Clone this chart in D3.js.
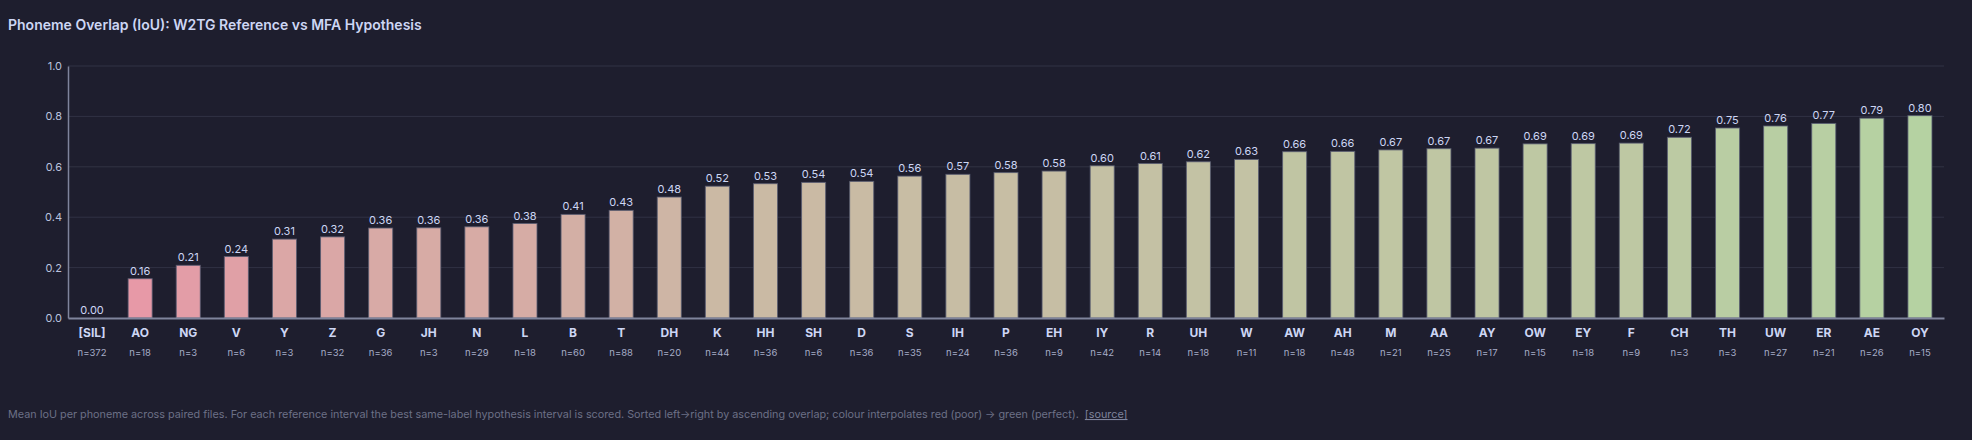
<!DOCTYPE html>
<html>
<head>
<meta charset="utf-8">
<script src="https://cdn.jsdelivr.net/npm/d3@7"></script>
<style>
  html, body { margin: 0; padding: 0; background: #1e1e2e; }
  body { width: 1972px; height: 440px; overflow: hidden; font-family: Inter, "Noto Sans", sans-serif; }
  svg text { font-family: Inter, "Noto Sans", sans-serif; }
</style>
</head>
<body>
<svg id="chart" width="1972" height="440"></svg>
<script>
// phonemes sorted by ascending IoU
var phonemes = ["[SIL]", "AO", "NG", "V", "Y", "Z", "G", "JH", "N", "L", "B", "T", "DH", "K", "HH", "SH", "D", "S", "IH", "P", "EH", "IY", "R", "UH", "W", "AW", "AH", "M", "AA", "AY", "OW", "EY", "F", "CH", "TH", "UW", "ER", "AE", "OY"];
var iou = [0.00, 0.156, 0.209, 0.244, 0.313, 0.322, 0.357, 0.358, 0.362, 0.375, 0.411, 0.427, 0.480, 0.523, 0.533, 0.538, 0.542, 0.563, 0.570, 0.577, 0.583, 0.604, 0.613, 0.620, 0.629, 0.660, 0.661, 0.667, 0.672, 0.674, 0.691, 0.692, 0.694, 0.717, 0.754, 0.762, 0.772, 0.793, 0.803];
var counts = [372, 18, 3, 6, 3, 32, 36, 3, 29, 18, 60, 88, 20, 44, 36, 6, 36, 35, 24, 36, 9, 42, 14, 18, 11, 18, 48, 21, 25, 17, 15, 18, 9, 3, 3, 27, 21, 26, 15];
var yTicks = [0, 0.2, 0.4, 0.6, 0.8, 1.0];

var data = phonemes.map(function (p, i) { return { ph: p, v: iou[i], n: counts[i] }; });

var svg = d3.select("#chart");
var margin = { top: 66, right: 28, bottom: 122, left: 68 };
var width = 1972, height = 440;

var x = d3.scaleBand()
    .domain(phonemes)
    .range([margin.left, width - margin.right])
    .paddingInner(0.5)
    .paddingOuter(0.25);

var y = d3.scaleLinear()
    .domain([0, 1])
    .range([height - margin.bottom, margin.top]);

var colour = d3.interpolateRgb("#f38ba8", "#a6e3a1");

// title
svg.append("text")
    .attr("x", 8).attr("y", 30)
    .text("Phoneme Overlap (IoU): W2TG Reference vs MFA Hypothesis")
    .style("font-size", "14px").style("font-weight", "600")
    .style("fill", "#cdd6f4");

// grid
svg.append("g")
    .selectAll("line")
    .data(yTicks.filter(function (t) { return t > 0; }))
    .enter().append("line")
    .attr("x1", margin.left).attr("x2", width - margin.right)
    .attr("y1", function (d) { return y(d); }).attr("y2", function (d) { return y(d); })
    .style("stroke", "#313244").style("stroke-width", 1);

// y axis
var yAxis = svg.append("g")
    .attr("transform", "translate(" + margin.left + ",0)")
    .call(d3.axisLeft(y).tickValues(yTicks).tickFormat(d3.format(".1f")).tickSize(0).tickPadding(6));
yAxis.select(".domain").style("stroke", "#7f849c").style("stroke-width", 1.5);
yAxis.selectAll("text").style("font-size", "11px").style("fill", "#bac2de");

// bars
svg.append("g")
    .selectAll("rect")
    .data(data)
    .enter().append("rect")
    .attr("x", function (d) { return x(d.ph); })
    .attr("y", function (d) { return y(d.v); })
    .attr("width", x.bandwidth())
    .attr("height", function (d) { return y(0) - y(d.v); })
    .style("fill", function (d) { return colour(d.v); })
    .style("stroke", "rgba(88,91,112,0.8)")
    .style("stroke-width", 1);

// value labels
svg.append("g")
    .selectAll("text")
    .data(data)
    .enter().append("text")
    .attr("x", function (d) { return x(d.ph) + x.bandwidth() / 2; })
    .attr("y", function (d) { return y(d.v) - 4; })
    .attr("text-anchor", "middle")
    .text(function (d) { return d.v.toFixed(2); })
    .style("font-size", "11px").style("fill", "#cdd6f4");

// x axis
var xAxis = svg.append("g")
    .attr("transform", "translate(0," + y(0) + ")")
    .call(d3.axisBottom(x).tickSize(0).tickPadding(10));
xAxis.select(".domain").style("stroke", "#7f849c").style("stroke-width", 2);
xAxis.selectAll("text")
    .style("font-size", "12px").style("font-weight", "700").style("fill", "#cdd6f4");

// counts
svg.append("g")
    .selectAll("text")
    .data(data)
    .enter().append("text")
    .attr("x", function (d) { return x(d.ph) + x.bandwidth() / 2; })
    .attr("y", 356)
    .attr("text-anchor", "middle")
    .text(function (d) { return "n=" + d.n; })
    .style("font-size", "9.5px").style("fill", "#a6adc8");

// footnote
var note = svg.append("text")
    .attr("x", 8).attr("y", 418)
    .style("font-size", "10.8px").style("fill", "#6c7086");
note.append("tspan")
    .text("Mean IoU per phoneme across paired files. For each reference interval the best same-label hypothesis interval is scored. Sorted left\u2192right by ascending overlap; colour interpolates red (poor) \u2192 green (perfect).\u00a0\u00a0");
note.append("tspan")
    .text("[source]")
    .style("fill", "#7f849c")
    .style("text-decoration", "underline");
</script>
</body>
</html>
